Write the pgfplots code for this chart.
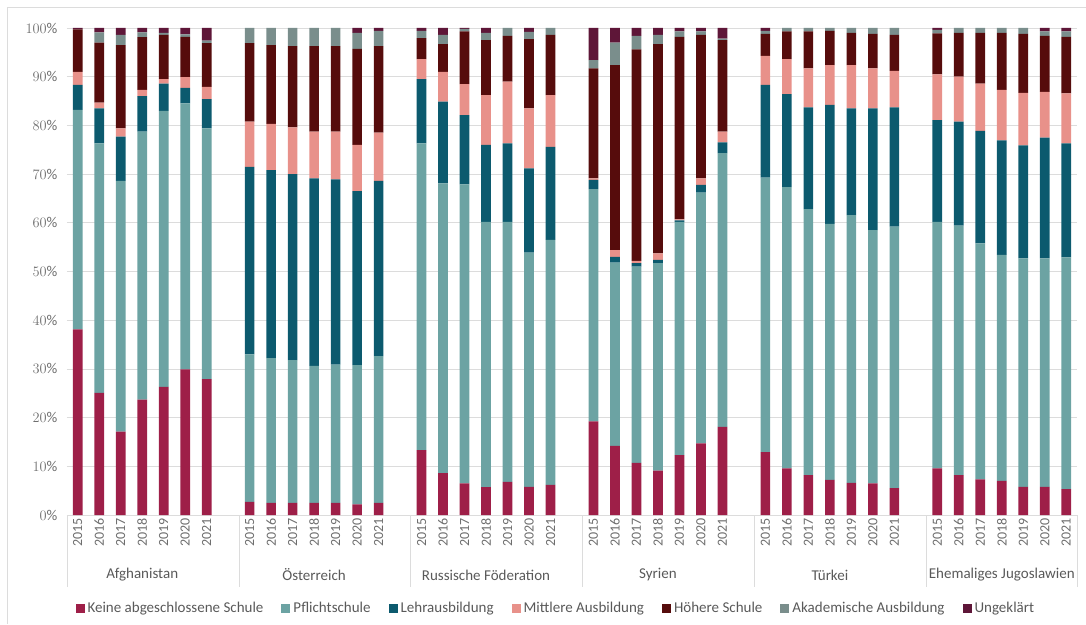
\documentclass[border=0pt]{standalone}
\usepackage{fontspec}
\setmainfont{Carlito}
\usepackage{pgfplots}
\usepackage{pgfplotstable}
\pgfplotsset{compat=1.18}
\definecolor{cK}{HTML}{9E1F48}
\definecolor{cP}{HTML}{6CA3A3}
\definecolor{cL}{HTML}{0C5A6E}
\definecolor{cM}{HTML}{E8918A}
\definecolor{cH}{HTML}{560C0C}
\definecolor{cA}{HTML}{7A8E8C}
\definecolor{cU}{HTML}{5E1638}
\definecolor{gridc}{HTML}{DCDCDC}
\definecolor{txt}{HTML}{6E6E6E}
\definecolor{txtd}{HTML}{595959}
\pgfplotstableread{
x k p l m h a u
0 38.1 45.1 5.1 2.7 8.7 0 0.3
1 25.1 51.2 7.2 1.2 12.3 2.1 0.9
2 17.1 51.5 9.1 1.7 17.1 2.1 1.4
3 23.7 55 7.3 1.3 10.8 1 0.9
4 26.3 56.7 5.6 0.9 9.1 0.4 1
5 29.9 54.6 3.2 2.2 8.3 0.5 1.3
6 27.9 51.5 6 2.5 9 0.5 2.6
8 2.7 30.3 38.5 9.3 16.1 3.1 0
9 2.5 29.7 38.6 9.5 16.2 3.5 0
10 2.5 29.3 38.2 9.6 16.7 3.7 0
11 2.5 28.1 38.5 9.6 17.6 3.7 0
12 2.5 28.4 38 9.8 17.6 3.7 0
13 2.2 28.6 35.7 9.5 19.7 3.3 1
14 2.5 30.1 36 9.9 17.8 3.1 0.6
16 13.3 63 13.2 4.1 4.3 1.5 0.6
17 8.6 59.5 16.8 6.1 5.7 1.9 1.4
18 6.5 61.4 14.2 6.4 10.8 0.5 0.2
19 5.7 54.5 15.8 10.2 11.3 1.5 1
20 6.8 53.4 16.1 12.7 9.4 1.6 0
21 5.8 48.1 17.3 12.3 14.2 1.5 0.8
22 6.2 50.3 19.1 10.6 12.4 1.4 0
24 19.2 47.7 1.9 0.3 22.6 1.7 6.6
25 14.2 37.6 1.2 1.4 38 4.6 3
26 10.7 40.3 0.7 0.5 43.4 2.8 1.6
27 9.1 42.6 0.7 1.3 43 1.9 1.4
28 12.3 47.9 0.3 0.2 37.5 1.1 0.7
29 14.7 51.5 1.6 1.3 29.5 0.7 0.7
30 18.1 56.2 2.2 2.2 18.8 0.3 2.2
32 12.9 56.4 19 6 4.5 0.6 0.6
33 9.6 57.7 19.1 7.2 5.7 0.7 0
34 8.2 54.6 20.9 8 7.6 0.7 0
35 7.2 52.6 24.4 8.2 7 0.6 0
36 6.6 55 21.9 8.9 6.6 1 0
37 6.5 52 25 8.2 7.1 1.2 0
38 5.5 53.7 24.5 7.5 7.4 1.4 0
40 9.6 50.6 20.9 9.4 8.4 0.7 0.4
41 8.2 51.2 21.4 9.2 9 1 0
42 7.3 48.5 23.1 9.7 10.4 1 0
43 7 46.4 23.5 10.4 11.7 1 0
44 5.8 46.9 23.2 10.8 12.1 1.2 0
45 5.8 46.9 24.8 9.4 11.5 0.9 0.7
46 5.3 47.6 23.4 10.3 11.6 1.1 0.7
}\data
\pgfplotsset{legsq/.style={legend image code/.code={\fill[##1] (0pt,-4.5pt) rectangle (9pt,4.5pt);}}}
\begin{document}
\begin{tikzpicture}[font=\fontsize{15}{18}\selectfont]
\useasboundingbox (-67pt,-109pt) rectangle (1019pt,515pt);
\draw[gridc, line width=0.8pt] (-60pt,-109pt) -- (-60pt,508pt) -- (1019pt,508pt);
\begin{axis}[
  at={(0pt,0pt)}, anchor=south west,
  scale only axis, width=1010pt, height=487pt,
  ybar stacked, bar width=0.45,
  xmin=-0.5, xmax=46.5, ymin=0, ymax=100,
  ytick={0,10,...,100},
  yticklabel={\pgfmathprintnumber{\tick}\%},
  y tick label style={text=txt, xshift=-6pt},
  xtick={0,1,2,3,4,5,6,8,9,10,11,12,13,14,16,17,18,19,20,21,22,24,25,26,27,28,29,30,32,33,34,35,36,37,38,40,41,42,43,44,45,46},
  xticklabels={2015,2016,2017,2018,2019,2020,2021,2015,2016,2017,2018,2019,2020,2021,2015,2016,2017,2018,2019,2020,2021,2015,2016,2017,2018,2019,2020,2021,2015,2016,2017,2018,2019,2020,2021,2015,2016,2017,2018,2019,2020,2021},
  x tick label style={rotate=90, anchor=east, text=txt, font=\fontsize{14}{16}\selectfont},
  major tick length=0pt,
  ymajorgrids, grid style={gridc, line width=0.8pt},
  axis line style={draw=none},
  legend columns=-1,
  legend style={at={(0.484,-0.191)}, anchor=center, draw=none, fill=none,
    text=txtd, font=\fontsize{15}{18}\selectfont,
    /tikz/every odd column/.append style={column sep=1pt},
    /tikz/every even column/.append style={column sep=16pt}},
  clip=false,
]
\addplot[fill=cK, draw=none, legsq] table[x=x,y=k]{\data};
\addplot[fill=cP, draw=none, legsq] table[x=x,y=p]{\data};
\addplot[fill=cL, draw=none, legsq] table[x=x,y=l]{\data};
\addplot[fill=cM, draw=none, legsq] table[x=x,y=m]{\data};
\addplot[fill=cH, draw=none, legsq] table[x=x,y=h]{\data};
\addplot[fill=cA, draw=none, legsq] table[x=x,y=a]{\data};
\addplot[fill=cU, draw=none, legsq] table[x=x,y=u]{\data};
\legend{Keine abgeschlossene Schule,Pflichtschule,Lehrausbildung,Mittlere Ausbildung,Höhere Schule,Akademische Ausbildung,Ungeklärt}
\draw[gridc, line width=0.8pt] (axis cs:-0.5,0) -- (axis cs:46.5,0);
\pgfplotsinvokeforeach{-0.5,7.5,15.5,23.5,31.5,39.5,46.5}{
  \draw[gridc, line width=0.8pt] (axis cs:#1,0) -- ++(0pt,-72pt);
}
\node[text=txtd] at ([yshift=-60pt]axis cs:3,0) {Afghanistan};
\node[text=txtd] at ([yshift=-60pt]axis cs:11,0) {Österreich};
\node[text=txtd] at ([yshift=-60pt]axis cs:19,0) {Russische Föderation};
\node[text=txtd] at ([yshift=-60pt]axis cs:27,0) {Syrien};
\node[text=txtd] at ([yshift=-60pt]axis cs:35,0) {Türkei};
\node[text=txtd] at ([yshift=-60pt]axis cs:43,0) {Ehemaliges Jugoslawien};
\end{axis}
\end{tikzpicture}
\end{document}
